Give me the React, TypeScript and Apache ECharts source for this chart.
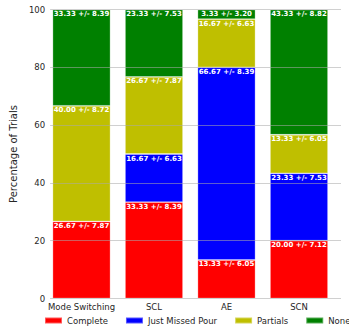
import React, { useEffect, useRef } from "react";
import * as echarts from "echarts";

const categories = ["Mode Switching", "SCL", "AE", "SCN"];
const seriesNames = ["Complete", "Just Missed Pour", "Partials", "None"];
const complete = [26.67, 33.33, 13.33, 20.0];
const completeErr = [7.87, 8.39, 6.05, 7.12];
const justMissed = [0, 16.67, 66.67, 23.33];
const justMissedErr = [0, 6.63, 8.39, 7.53];
const partials = [40.0, 26.67, 16.67, 13.33];
const partialsErr = [8.72, 7.87, 6.63, 6.05];
const none = [33.33, 23.33, 3.33, 43.33];
const noneErr = [8.39, 7.53, 3.2, 8.82];
const yTicks = [0, 20, 40, 60, 80, 100];

const colors = ["#ff0000", "#0000ff", "#bfbf00", "#008000"];
const FONT = "DejaVu Sans";

export default function App() {
  const ref = useRef<HTMLDivElement>(null);
  useEffect(() => {
    if (!ref.current) return;
    const chart = echarts.init(ref.current, undefined, { renderer: "svg" });
    const values = [complete, justMissed, partials, none];
    const errs = [completeErr, justMissedErr, partialsErr, noneErr];
    const series = seriesNames.map((name, si) => ({
      name,
      type: "bar",
      stack: "total",
      xAxisIndex: 1,
      yAxisIndex: 1,
      barWidth: "80%",
      data: values[si],
      itemStyle: {
        color: colors[si],
        borderColor: "rgba(255,255,255,0.35)",
        borderWidth: 0.8,
      },
      label: {
        show: true,
        position: "insideTop",
        distance: 1,
        color: "#ffffff",
        fontFamily: FONT,
        fontWeight: "bold",
        fontSize: 7,
        formatter: (p: any) =>
          p.value === 0
            ? ""
            : `${p.value.toFixed(2)} +/- ${errs[si][p.dataIndex].toFixed(2)}`,
      },
    }));
    chart.setOption({
      animation: false,
      grid: [
        { left: 39, right: 8, top: 9.5, bottom: 35.5 },
        { left: 45.25, right: 13.75, top: 9.5, bottom: 35.5 },
      ],
      legend: {
        data: seriesNames,
        left: 44,
        top: 316,
        width: 500,
        itemWidth: 17,
        itemHeight: 6,
        itemGap: 17,
        icon: "rect",
        padding: 0,
        textStyle: { fontFamily: FONT, fontSize: 8.5, color: "#262626" },
      },
      xAxis: [
        { type: "category", gridIndex: 0, data: categories, show: false },
        {
          type: "category",
          gridIndex: 1,
          data: categories,
          axisLine: { show: false },
          axisTick: { show: false },
          axisLabel: {
            fontFamily: FONT,
            fontSize: 8.5,
            color: "#262626",
            margin: 4,
            interval: 0,
          },
        },
      ],
      yAxis: [
        {
          type: "value",
          gridIndex: 0,
          min: yTicks[0],
          max: yTicks[yTicks.length - 1],
          interval: 20,
          z: 5,
          name: "Percentage of Trials",
          nameLocation: "middle",
          nameGap: 24,
          nameTextStyle: { fontFamily: FONT, fontSize: 10, color: "#262626" },
          axisLine: { show: false },
          axisTick: { show: false },
          axisLabel: {
            fontFamily: FONT,
            fontSize: 8.5,
            color: "#262626",
            margin: 5,
          },
          splitLine: {
            lineStyle: { color: "rgba(170,170,170,0.55)", width: 1 },
          },
        },
        {
          type: "value",
          gridIndex: 1,
          min: 0,
          max: 100,
          show: false,
          splitLine: { show: false },
        },
      ],
      series,
    });
    return () => chart.dispose();
  }, []);
  return (
    <div
      ref={ref}
      style={{ position: "absolute", left: 0, top: 0, width: 349, height: 334 }}
    />
  );
}
